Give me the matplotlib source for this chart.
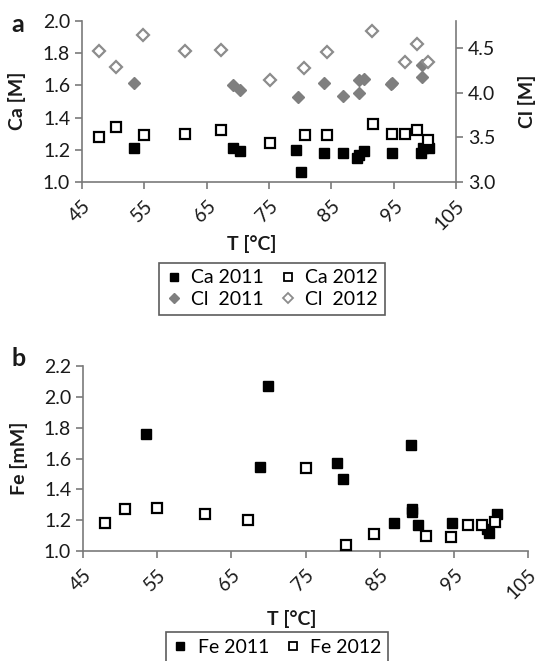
import matplotlib
matplotlib.use('Agg')
import matplotlib.pyplot as plt
from matplotlib.ticker import FormatStrFormatter
from matplotlib.lines import Line2D

plt.rcParams['font.family'] = ['Lato', 'DejaVu Sans']

# panel a - Ca (left axis) and Cl (right axis)
t_ca_2011 = [53.4, 69.2, 70.3, 79.4, 80.1, 83.8, 86.8, 89.1, 89.5, 90.2, 94.7, 99.4, 99.7, 100.7]
ca_2011 = [1.21, 1.21, 1.19, 1.20, 1.06, 1.18, 1.18, 1.15, 1.17, 1.19, 1.18, 1.18, 1.21, 1.21]
t_ca_2012 = [47.8, 50.4, 54.9, 61.5, 67.3, 75.2, 80.8, 84.3, 91.7, 94.8, 96.8, 98.8, 100.5]
ca_2012 = [1.28, 1.34, 1.29, 1.30, 1.32, 1.24, 1.29, 1.29, 1.36, 1.30, 1.30, 1.32, 1.26]
t_cl_2011 = [53.4, 69.3, 70.3, 79.6, 83.8, 86.9, 89.4, 89.4, 90.2, 94.5, 94.7, 99.5, 99.5]
cl_2011 = [4.11, 4.09, 4.03, 3.95, 4.11, 3.96, 3.99, 4.14, 4.15, 4.10, 4.11, 4.17, 4.31]
t_cl_2012 = [47.8, 50.4, 54.8, 61.5, 67.3, 75.1, 80.6, 84.3, 91.6, 96.8, 98.8, 100.5]
cl_2012 = [4.47, 4.29, 4.64, 4.46, 4.48, 4.14, 4.28, 4.45, 4.69, 4.34, 4.54, 4.34]

# panel b - Fe
t_fe_2011 = [53.5, 68.8, 69.9, 79.3, 80.1, 86.9, 89.2, 89.3, 89.4, 90.2, 94.7, 99.5, 99.8, 100.8]
fe_2011 = [1.76, 1.545, 2.07, 1.57, 1.47, 1.18, 1.69, 1.27, 1.25, 1.17, 1.18, 1.14, 1.12, 1.24]
t_fe_2012 = [47.9, 50.6, 55.0, 61.4, 67.2, 75.1, 80.5, 84.3, 91.3, 94.6, 96.9, 98.8, 100.6]
fe_2012 = [1.18, 1.27, 1.28, 1.24, 1.20, 1.54, 1.04, 1.11, 1.10, 1.09, 1.17, 1.17, 1.19]

x_ticks = [45, 55, 65, 75, 85, 95, 105]

AXCOL = '#7a7a7a'
TXT = '#1a1a1a'
GREY = '#7f7f7f'
FS = 14

W, H = 540, 661
fig = plt.figure(figsize=(W / 100, H / 100), dpi=100)


def style_axis(ax, spines):
    for s in ['top', 'right', 'left', 'bottom']:
        ax.spines[s].set_visible(s in spines)
        ax.spines[s].set_color(AXCOL)
        ax.spines[s].set_linewidth(1.2)
    ax.tick_params(colors=AXCOL, labelcolor=TXT, labelsize=FS, length=5, width=1.2)
    ax.set_facecolor('none')


def px_axes(x0, x1, y0, y1):
    return fig.add_axes([x0 / W, 1 - y1 / H, (x1 - x0) / W, (y1 - y0) / H])


def set_xaxis(ax):
    ax.set_xlim(45, 105)
    ax.set_xticks(x_ticks)
    ax.set_xticklabels([str(v) for v in x_ticks], rotation=45, ha='right', va='top',
                       rotation_mode='anchor')
    ax.tick_params(axis='x', pad=6)


sq_open = dict(marker='s', ms=6.5, mfc='white', mec='black', mew=1.6, ls='none')
sq_fill = dict(marker='s', ms=6.5, mfc='black', mec='black', mew=1.0, ls='none')
di_open = dict(marker='D', ms=6.3, mfc='white', mec='#8c8c8c', mew=1.6, ls='none')
di_fill = dict(marker='D', ms=6.3, mfc=GREY, mec=GREY, mew=1.0, ls='none')

# ---- panel a
ax1 = px_axes(82, 456, 21, 182)
ax1.plot(t_ca_2011, ca_2011, **sq_fill, zorder=3)
ax1.plot(t_ca_2012, ca_2012, **sq_open, zorder=3)
set_xaxis(ax1)
ax1.set_ylim(1.0, 2.0)
ax1.set_yticks([1.0, 1.2, 1.4, 1.6, 1.8, 2.0])
ax1.yaxis.set_major_formatter(FormatStrFormatter('%.1f'))
style_axis(ax1, ['left', 'bottom'])

ax2 = ax1.twinx()
ax2.plot(t_cl_2011, cl_2011, **di_fill, zorder=3)
ax2.plot(t_cl_2012, cl_2012, **di_open, zorder=3)
ax2.set_ylim(3.0, 4.8)
ax2.set_yticks([3.0, 3.5, 4.0, 4.5])
ax2.yaxis.set_major_formatter(FormatStrFormatter('%.1f'))
style_axis(ax2, ['right'])

fig.text(18 / W, 1 - 25 / H, 'a', fontsize=18, fontweight='bold', ha='center', va='center', color=TXT)
fig.text(17 / W, 1 - 101 / H, 'Ca [M]', fontsize=FS, fontweight='bold', rotation=90,
         ha='center', va='center', color=TXT)
fig.text(527 / W, 1 - 101 / H, 'Cl [M]', fontsize=FS, fontweight='bold', rotation=90,
         ha='center', va='center', color=TXT)
fig.text(252 / W, 1 - 244 / H, 'T [°C]', fontsize=FS, fontweight='bold',
         ha='center', va='center', color=TXT)

handles_a = [Line2D([], [], **dict(sq_fill, ms=5.5)), Line2D([], [], **dict(sq_open, ms=5.5, mew=1.3)),
             Line2D([], [], **dict(di_fill, ms=5)), Line2D([], [], **dict(di_open, ms=5, mew=1.3))]
leg_a = fig.legend([handles_a[0], handles_a[2], handles_a[1], handles_a[3]],
                   ['Ca 2011', 'Cl  2011', 'Ca 2012', 'Cl  2012'],
                   ncol=2, loc='upper center', bbox_to_anchor=(272 / W, 1 - 262.5 / H),
                   fontsize=FS, frameon=True, fancybox=False, handlelength=0.8,
                   handletextpad=0.5, columnspacing=0.8, labelspacing=0.25,
                   borderpad=0.35, borderaxespad=0)
leg_a.get_frame().set_edgecolor('#333333')
leg_a.get_frame().set_linewidth(1.2)

# ---- panel b
ax3 = px_axes(83, 528, 366, 551)
ax3.plot(t_fe_2011, fe_2011, **sq_fill, zorder=3)
ax3.plot(t_fe_2012, fe_2012, **sq_open, zorder=3)
set_xaxis(ax3)
ax3.set_ylim(1.0, 2.2)
ax3.set_yticks([1.0, 1.2, 1.4, 1.6, 1.8, 2.0, 2.2])
ax3.yaxis.set_major_formatter(FormatStrFormatter('%.1f'))
style_axis(ax3, ['left', 'bottom'])

fig.text(19 / W, 1 - 358 / H, 'b', fontsize=18, fontweight='bold', ha='center', va='center', color=TXT)
fig.text(19 / W, 1 - 458 / H, 'Fe [mM]', fontsize=FS, fontweight='bold', rotation=90,
         ha='center', va='center', color=TXT)
fig.text(292 / W, 1 - 619 / H, 'T [°C]', fontsize=FS, fontweight='bold',
         ha='center', va='center', color=TXT)

leg_b = fig.legend([handles_a[0], handles_a[1]], ['Fe 2011', 'Fe 2012'],
                   ncol=2, loc='upper center', bbox_to_anchor=(277 / W, 1 - 632 / H),
                   fontsize=FS, frameon=True, fancybox=False, handlelength=0.8,
                   handletextpad=0.5, columnspacing=0.8, borderpad=0.35, borderaxespad=0)
leg_b.get_frame().set_edgecolor('#333333')
leg_b.get_frame().set_linewidth(1.2)

fig.savefig('out.png', dpi=100)
